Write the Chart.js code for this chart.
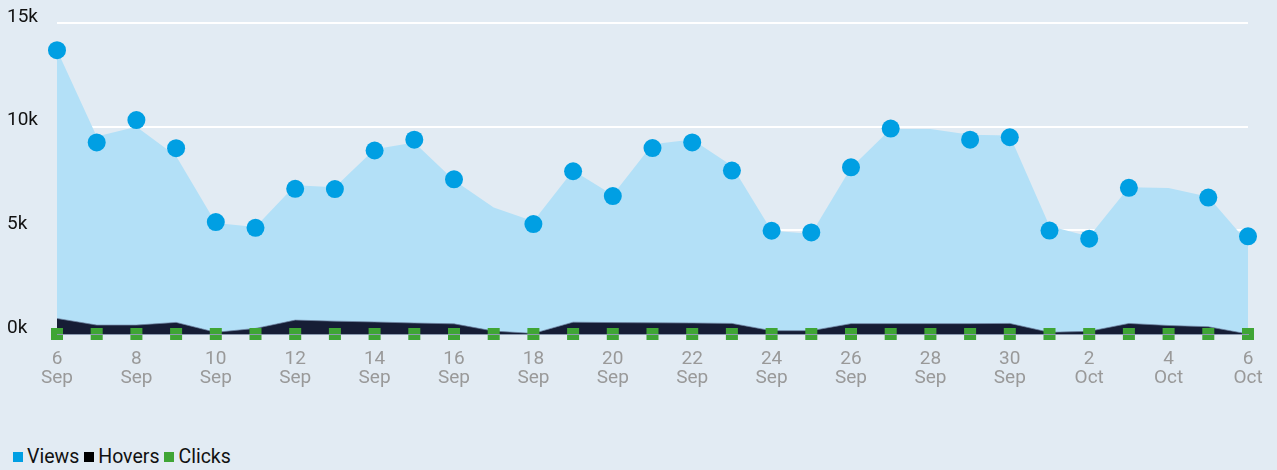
<!DOCTYPE html>
<html>
<head>
<meta charset="utf-8">
<script src="https://cdn.jsdelivr.net/npm/chart.js@4/dist/chart.umd.min.js"></script>
<style>
  html, body { margin: 0; padding: 0; background: #e2ebf3; }
  #wrap { position: relative; width: 1277px; height: 470px; }
  #chart { position: absolute; left: 0; top: 0; }
  #legend {
    position: absolute; left: 13px; top: 445px;
    display: flex; align-items: center;
    font: 19.5px Roboto, sans-serif; color: #111;
  }
  #legend .item { display: flex; align-items: center; margin-right: 5px; }
  #legend .box { width: 10px; height: 10px; margin-right: 4px; }
</style>
</head>
<body>
<div id="wrap">
  <canvas id="chart" width="1277" height="430"></canvas>
  <div id="legend"></div>
</div>
<script>
// day / month per category (6 Sep .. 6 Oct)
const days = ['6', '7', '8', '9', '10', '11', '12', '13', '14', '15', '16', '17', '18', '19', '20',
  '21', '22', '23', '24', '25', '26', '27', '28', '29', '30', '1', '2', '3', '4', '5', '6'];
const months = ['Sep', 'Sep', 'Sep', 'Sep', 'Sep', 'Sep', 'Sep', 'Sep', 'Sep', 'Sep', 'Sep', 'Sep', 'Sep',
  'Sep', 'Sep', 'Sep', 'Sep', 'Sep', 'Sep', 'Sep', 'Sep', 'Sep', 'Sep', 'Sep', 'Sep',
  'Oct', 'Oct', 'Oct', 'Oct', 'Oct', 'Oct'];

// views: filled area and the marker dots
const viewsArea = [13700, 9520, 9990, 8580, 5350, 5160, 7180, 7080, 8910, 9240, 7410, 6100, 5440, 7880, 6710,
  9150, 9380, 8110, 4980, 4840, 8020, 9890, 9890, 9610, 9570, 5210, 4700, 7080, 7040, 6620, 4400];
const viewsDots = [13690, 9240, 10320, 8960, 5400, 5120, 7000, 6990, 8850, 9370, 7460, null, 5300, 7850, 6650,
  8970, 9240, 7880, 4980, 4900, 8040, 9910, null, 9370, 9490, 4990, 4600, 7050, null, 6580, 4710];
const hovers = [750, 430, 430, 560, 80, 270, 670, 620, 580, 530, 490, 140, 30, 570, 550,
  540, 530, 510, 160, 160, 500, 500, 500, 500, 510, 80, 130, 510, 410, 350, 0];
const clicks = [0, 0, 0, 0, 0, 0, 0, 0, 0, 0, 0, 0, 0, 0, 0,
  0, 0, 0, 0, 0, 0, 0, 0, 0, 0, 0, 0, 0, 0, 0, 0];

const yTicks = [0, 5000, 10000, 15000];

const C_VIEWS = '#009fe3';
const C_VIEWS_FILL = '#b3e0f7';
const C_HOVERS = '#161d35';
const C_CLICKS = '#3fa535';

const labels = days.map((d, i) => [d, months[i]]);

new Chart(document.getElementById('chart').getContext('2d'), {
  type: 'line',
  data: {
    labels,
    datasets: [
      {
        label: 'Views',
        data: viewsArea,
        order: 4,
        fill: 'origin',
        backgroundColor: C_VIEWS_FILL,
        borderColor: 'rgba(0,0,0,0)',
        borderWidth: 1,
        pointRadius: 0,
        tension: 0,
      },
      {
        label: 'Hovers',
        data: hovers,
        order: 3,
        fill: 'origin',
        backgroundColor: C_HOVERS,
        borderColor: 'rgba(110,130,160,0.7)',
        borderWidth: 1,
        pointRadius: 0,
        tension: 0,
      },
      {
        label: 'Clicks',
        data: clicks,
        order: 2,
        showLine: false,
        pointStyle: 'rect',
        pointRadius: 8.5,
        pointBorderWidth: 0,
        pointBackgroundColor: C_CLICKS,
        clip: false,
      },
      {
        label: 'Views',
        data: viewsDots,
        order: 1,
        showLine: false,
        pointRadius: 9,
        pointBorderWidth: 0,
        pointBackgroundColor: C_VIEWS,
        clip: false,
      },
    ],
  },
  options: {
    responsive: false,
    animation: false,
    layout: { padding: { left: 7, right: 29, top: 23, bottom: 0 } },
    plugins: {
      legend: { display: false },
      tooltip: { enabled: false },
    },
    scales: {
      x: {
        offset: false,
        grid: { display: false, drawTicks: false },
        border: { display: true, color: '#8c9bb0', width: 1, z: 1 },
        ticks: {
          autoSkip: false,
          maxRotation: 0,
          padding: 16,
          color: '#999',
          font: { family: 'Roboto', size: 19, lineHeight: 1 },
          callback(v, i) {
            return i % 2 === 0 ? this.getLabelForValue(v) : '';
          },
        },
        afterFit(scale) {
          scale.height = 96;
          scale.paddingLeft = 0;
          scale.paddingRight = 0;
        },
      },
      y: {
        min: 0,
        max: 15000,
        afterBuildTicks(scale) { scale.ticks = yTicks.map((v) => ({ value: v })); },
        grid: { color: '#ffffff', lineWidth: 2, drawTicks: false },
        border: { display: false },
        ticks: {
          crossAlign: 'far',
          labelOffset: -6,
          color: '#111',
          font: { family: 'Roboto', size: 19 },
          callback(v) { return (v / 1000) + 'k'; },
        },
        afterFit(scale) { scale.width = 50; },
      },
    },
  },
});

// html legend
const legendItems = [['Views', C_VIEWS], ['Hovers', '#000'], ['Clicks', C_CLICKS]];
const legend = document.getElementById('legend');
legendItems.forEach(([name, color]) => {
  const item = document.createElement('div');
  item.className = 'item';
  item.innerHTML = '<span class="box" style="background:' + color + '"></span><span>' + name + '</span>';
  legend.appendChild(item);
});
</script>
</body>
</html>
